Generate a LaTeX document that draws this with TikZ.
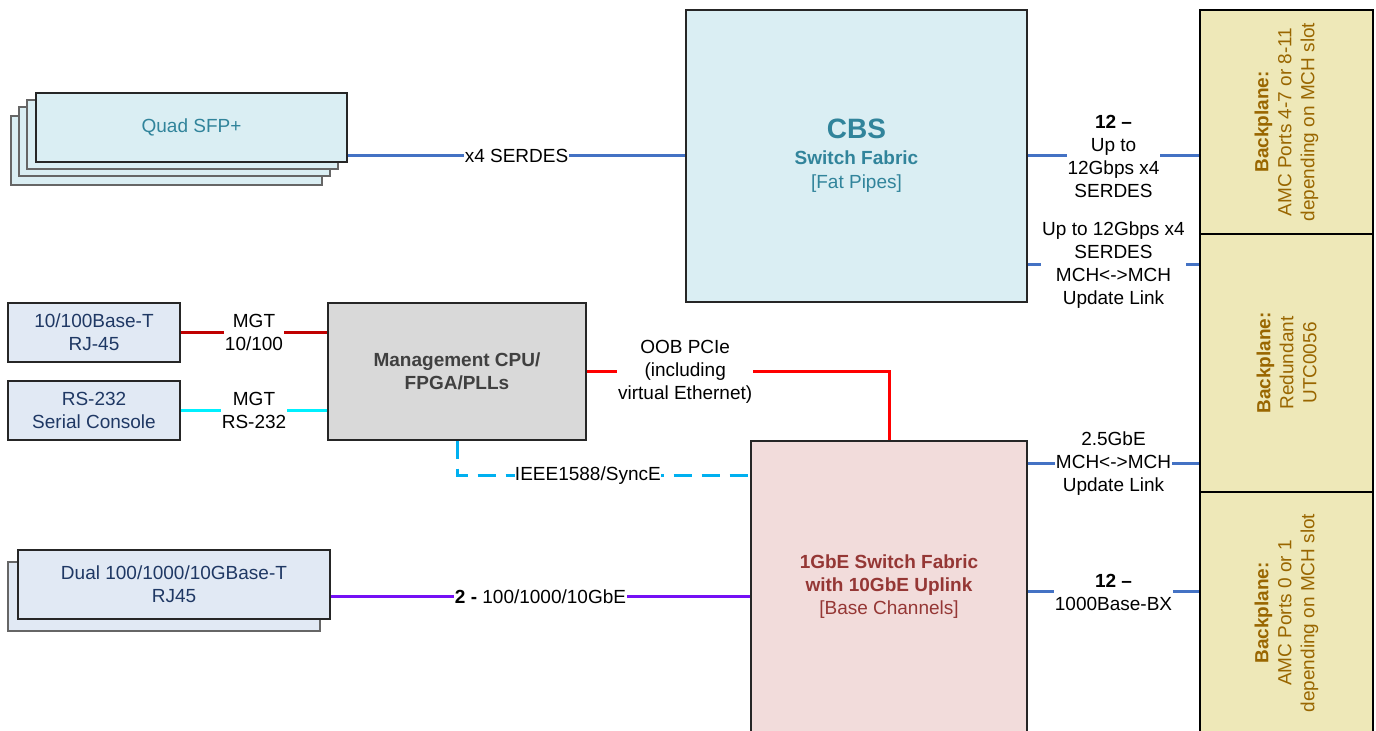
\documentclass[tikz,border=0pt]{standalone}
\usepackage{fontspec}
\setmainfont{Liberation Sans}
\usepackage{xcolor}
\usetikzlibrary{positioning, calc}

\definecolor{sfpfill}{HTML}{DAEEF3}
\definecolor{sfptext}{HTML}{31849B}
\definecolor{portfill}{HTML}{E1E9F4}
\definecolor{porttext}{HTML}{1F3864}
\definecolor{mgmtfill}{HTML}{D9D9D9}
\definecolor{mgmttext}{HTML}{404040}
\definecolor{gbefill}{HTML}{F2DCDB}
\definecolor{gbetext}{HTML}{953735}
\definecolor{bpfill}{HTML}{EEE8B8}
\definecolor{bptext}{HTML}{996600}
\definecolor{serdes}{HTML}{4472C4}
\definecolor{mgtred}{HTML}{C00000}
\definecolor{pcie}{HTML}{FF0000}
\definecolor{rsline}{HTML}{00F0FF}
\definecolor{syncline}{HTML}{00B0F0}
\definecolor{gbeline}{HTML}{7510F5}

\begin{document}
\begin{tikzpicture}[x=0.5pt, y=-0.5pt,
    font=\fontsize{9.5}{11.5}\selectfont,
    box/.style={draw=black!85, line width=0.6pt, inner sep=0pt, align=center},
    backbox/.style={draw=black!60, line width=0.6pt, inner sep=0pt},
    bpbox/.style={box, draw=black, fill=bpfill, minimum width=86.5pt},
    bptag/.style={rotate=90, align=center, text=bptext, inner sep=0pt},
    link/.style={line width=1.5pt},
    tag/.style={fill=white, inner xsep=0.5pt, inner ysep=0pt, align=center, text=black}]
    %\draw[step=50, gray, very thin] (0, 0) grid (1376, 731);
    \useasboundingbox (0, 0) rectangle (1376, 731);

    % quad SFP+ stack
    \node[backbox, fill=sfpfill, minimum width=155.5pt, minimum height=34.5pt] (sfp3) at (166.5, 150.5) {};
    \node[backbox, fill=sfpfill, minimum width=155.5pt, minimum height=34.5pt] (sfp2) at (174.5, 141.5) {};
    \node[backbox, fill=sfpfill, minimum width=155.5pt, minimum height=34.5pt] (sfp1) at (182.5, 134.5) {};
    \node[box, fill=sfpfill, text=sfptext, minimum width=155.5pt, minimum height=34.5pt] (sfp) at (191.5, 127.5) {Quad SFP+};

    \node[box, fill=sfpfill, text=sfptext, minimum width=170.5pt, minimum height=146pt] (cbs) at (856.5, 156) {
      {\fontsize{14}{17}\selectfont\bfseries CBS}\\[1.5pt]
      \textbf{Switch Fabric}\\[0.5pt]{}[Fat Pipes]
    };

    % management side
    \node[box, fill=portfill, text=porttext, minimum width=86pt, minimum height=29.5pt] (base100) at (94, 332.5) {10/100Base-T\\RJ-45};
    \node[box, fill=portfill, text=porttext, minimum width=86pt, minimum height=29.5pt] (rs232) at (94, 410.5) {RS-232\\Serial Console};
    \node[box, fill=mgmtfill, text=mgmttext, font=\fontsize{9.5}{11.5}\selectfont\bfseries, minimum width=129pt, minimum height=68.5pt] (mgmt) at (457, 371.5) {Management CPU/\\FPGA/PLLs};

    \node[box, fill=gbefill, text=gbetext, minimum width=138pt, minimum height=146pt] (gbe) at (889, 587) {
      \textbf{1GbE Switch Fabric}\\
      \textbf{with 10GbE Uplink}\\{}[Base Channels]
    };

    \node[backbox, fill=portfill, minimum width=156pt, minimum height=34.5pt] (dual2) at (164, 596.5) {};
    \node[box, fill=portfill, text=porttext, minimum width=156pt, minimum height=34.5pt] (dual) at (174, 584.5) {Dual 100/1000/10GBase-T\\RJ45};

    % backplane
    \node[bpbox, minimum height=112pt, label={[bptag]center:{\textbf{Backplane:}\\AMC Ports 4-7 or 8-11\\depending on MCH slot}}] (bp1) at (1286.5, 122) {};
    \node[bpbox, minimum height=129pt, label={[bptag]center:{\textbf{Backplane:}\\Redundant\\UTC0056}}] (bp2) at (1286.5, 363) {};
    \node[bpbox, minimum height=121pt, label={[bptag]center:{\textbf{Backplane:}\\AMC Ports 0 or 1\\depending on MCH slot}}] (bp3) at (1286.5, 613) {};

    % links
    \draw[link, serdes] (cbs.west -| sfp.east) -- (cbs.west) node[tag, midway] {x4 SERDES};
    \draw[link, serdes] (cbs.east) -- (cbs.east -| bp1.west) node[tag, midway] {\textbf{12 –}\\Up to\\12Gbps x4\\SERDES};
    \draw[link, serdes] ([yshift=-54.5pt]cbs.east) -- ([yshift=-54.5pt]cbs.east -| bp2.west) node[tag, midway] {Up to 12Gbps x4\\SERDES\\MCH<->MCH\\Update Link};

    \draw[link, mgtred] (base100.east) -- (base100.east -| mgmt.west) node[tag, midway] {MGT\\10/100};
    \draw[link, rsline] (rs232.east) -- (rs232.east -| mgmt.west) node[tag, midway] {MGT\\RS-232};
    \draw[link, pcie] (mgmt.east) -| (gbe.north) node[tag, pos=0.163] {OOB PCIe\\(including\\virtual Ethernet)};
    \draw[link, syncline, dash pattern=on 9pt off 5pt] (mgmt.south) |- ([yshift=55.5pt]gbe.west) node[tag, inner xsep=0pt, pos=0.723] {IEEE1588/SyncE};
    \draw[link, gbeline] ([yshift=-6.25pt]dual.east) -- ([yshift=-6.25pt]dual.east -| gbe.west) node[tag, midway] {\textbf{2 -} 100/1000/10GbE};

    \draw[link, serdes] ([yshift=61.5pt]gbe.east) -- ([yshift=61.5pt]gbe.east -| bp2.west) node[tag, midway] {2.5GbE\\MCH<->MCH\\Update Link};
    \draw[link, serdes] ([yshift=-2.5pt]gbe.east) -- ([yshift=-2.5pt]gbe.east -| bp3.west) node[tag, midway] {\textbf{12 –}\\1000Base-BX};

  \end{tikzpicture}
\end{document}
